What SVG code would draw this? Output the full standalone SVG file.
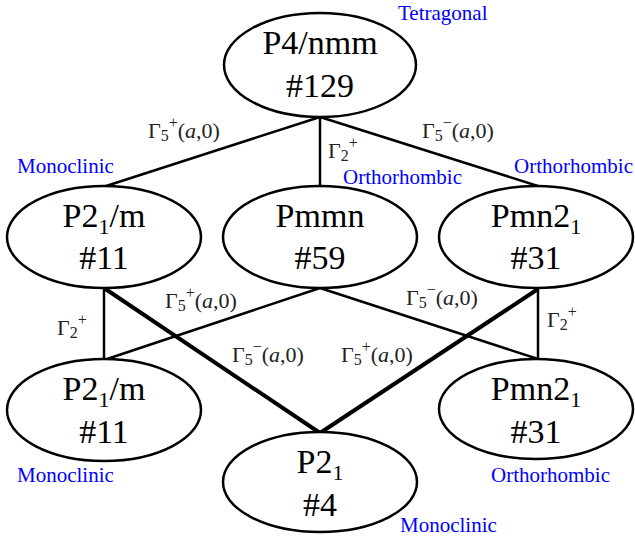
<svg xmlns="http://www.w3.org/2000/svg" width="635" height="539" viewBox="0 0 635 539">
<style>
.node ellipse{fill:#fff;stroke:#000;stroke-width:2.5}
.nt{font-family:"Liberation Serif","Times New Roman","DejaVu Serif",serif;font-size:34px;fill:#000;text-anchor:middle}
.sub{font-size:22px}
.lbl{font-family:"Liberation Serif","Times New Roman","DejaVu Serif",serif;font-size:22px;fill:#222}
.sm{font-size:16px}
.sys{font-family:"Liberation Serif","Times New Roman","DejaVu Serif",serif;font-size:21px;fill:#0000ff}
.thin{stroke:#000;stroke-width:2.5;fill:none}
.thick{stroke:#000;stroke-width:4;fill:none}
</style>
<rect width="635" height="539" fill="#fff"/>
<g id="connectors">
<line class="thin" x1="320" y1="117" x2="103" y2="187"/>
<line class="thin" x1="320" y1="117" x2="320" y2="186"/>
<line class="thin" x1="320" y1="117" x2="541" y2="187"/>
<line class="thin" x1="104" y1="288" x2="104" y2="360"/>
<line class="thin" x1="320" y1="288" x2="104" y2="360"/>
<line class="thin" x1="320" y1="288" x2="538" y2="359"/>
<line class="thin" x1="538" y1="289" x2="538" y2="360"/>
<line class="thick" x1="104" y1="288" x2="320" y2="433"/>
<line class="thick" x1="538" y1="289" x2="320" y2="433"/>
</g>
<g id="n129" class="node">
<ellipse cx="320" cy="65" rx="96" ry="52"/>
<text class="nt" x="320" y="54">P4/nmm</text>
<text class="nt" x="320" y="97">#129</text>
</g>
<g id="n11a" class="node">
<ellipse cx="104" cy="237" rx="97" ry="51"/>
<text class="nt" x="104" y="227">P2<tspan class="sub" dy="7">1</tspan><tspan dy="-7">/m</tspan></text>
<text class="nt" x="104" y="269">#11</text>
</g>
<g id="n59" class="node">
<ellipse cx="320" cy="237" rx="97" ry="51"/>
<text class="nt" x="320" y="227">Pmmn</text>
<text class="nt" x="320" y="269">#59</text>
</g>
<g id="n31a" class="node">
<ellipse cx="536" cy="237" rx="97" ry="51"/>
<text class="nt" x="536" y="227">Pmn2<tspan class="sub" dy="7">1</tspan></text>
<text class="nt" x="536" y="269">#31</text>
</g>
<g id="n11b" class="node">
<ellipse cx="104" cy="410" rx="97" ry="51"/>
<text class="nt" x="104" y="400">P2<tspan class="sub" dy="7">1</tspan><tspan dy="-7">/m</tspan></text>
<text class="nt" x="104" y="443">#11</text>
</g>
<g id="n31b" class="node">
<ellipse cx="536" cy="409" rx="97" ry="50"/>
<text class="nt" x="536" y="400">Pmn2<tspan class="sub" dy="7">1</tspan></text>
<text class="nt" x="536" y="443">#31</text>
</g>
<g id="n4" class="node">
<ellipse cx="320" cy="482" rx="97" ry="50"/>
<text class="nt" x="320" y="473">P2<tspan class="sub" dy="7">1</tspan></text>
<text class="nt" x="320" y="516">#4</text>
</g>
<g id="labels">
<text class="lbl" x="148" y="138">Γ<tspan class="sm" dy="3">5</tspan><tspan class="sm" dy="-13">+</tspan><tspan dy="10">(</tspan><tspan font-style="italic">a</tspan>,0)</text>
<text class="lbl" x="328" y="158">Γ<tspan class="sm" dy="3">2</tspan><tspan class="sm" dy="-13">+</tspan></text>
<text class="lbl" x="422" y="138">Γ<tspan class="sm" dy="3">5</tspan><tspan class="sm" dy="-13">−</tspan><tspan dy="10">(</tspan><tspan font-style="italic">a</tspan>,0)</text>
<text class="lbl" x="165" y="308">Γ<tspan class="sm" dy="3">5</tspan><tspan class="sm" dy="-13">+</tspan><tspan dy="10">(</tspan><tspan font-style="italic">a</tspan>,0)</text>
<text class="lbl" x="57" y="335">Γ<tspan class="sm" dy="3">2</tspan><tspan class="sm" dy="-13">+</tspan></text>
<text class="lbl" x="232" y="362">Γ<tspan class="sm" dy="3">5</tspan><tspan class="sm" dy="-13">−</tspan><tspan dy="10">(</tspan><tspan font-style="italic">a</tspan>,0)</text>
<text class="lbl" x="406" y="305">Γ<tspan class="sm" dy="3">5</tspan><tspan class="sm" dy="-13">−</tspan><tspan dy="10">(</tspan><tspan font-style="italic">a</tspan>,0)</text>
<text class="lbl" x="547" y="327">Γ<tspan class="sm" dy="3">2</tspan><tspan class="sm" dy="-13">+</tspan></text>
<text class="lbl" x="341" y="362">Γ<tspan class="sm" dy="3">5</tspan><tspan class="sm" dy="-13">+</tspan><tspan dy="10">(</tspan><tspan font-style="italic">a</tspan>,0)</text>
</g>
<g id="systems">
<text class="sys" x="398" y="20">Tetragonal</text>
<text class="sys" x="17" y="173">Monoclinic</text>
<text class="sys" x="343" y="184">Orthorhombic</text>
<text class="sys" x="514" y="173">Orthorhombic</text>
<text class="sys" x="17" y="482">Monoclinic</text>
<text class="sys" x="491" y="482">Orthorhombic</text>
<text class="sys" x="400" y="532">Monoclinic</text>
</g>
</svg>
